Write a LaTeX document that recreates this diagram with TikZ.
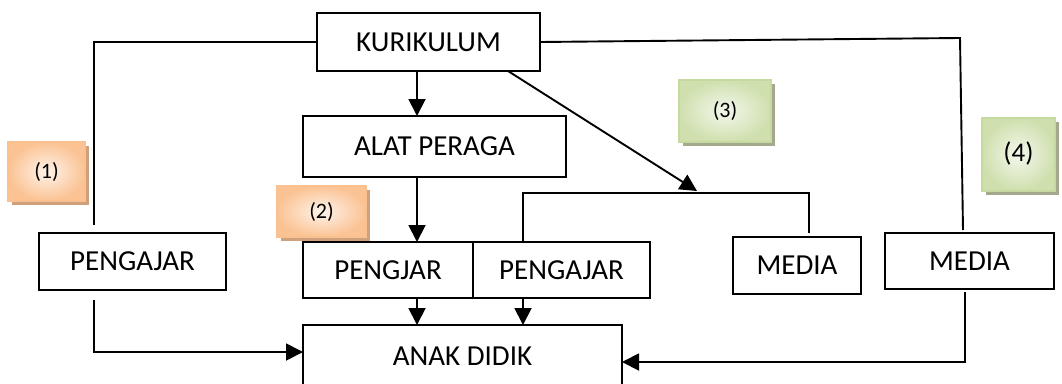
\documentclass[tikz,border=0pt]{standalone}
\usepackage{fontspec}
\setmainfont{Carlito}
\usetikzlibrary{arrows.meta,shadows}
\definecolor{orbord}{HTML}{FAC090}
\definecolor{orout}{HTML}{FBC394}
\definecolor{orin}{HTML}{FEF3EA}
\definecolor{orshad}{HTML}{CFA07C}
\definecolor{grbord}{HTML}{C6D9A0}
\definecolor{grout}{HTML}{CFE0AE}
\definecolor{grin}{HTML}{F3F7EC}
\definecolor{grshad}{HTML}{A2A98C}
\tikzset{
  box/.style={draw=black, line width=1.9pt, fill=white, inner sep=0pt, outer sep=0pt,
    font=\fontsize{29}{32}\selectfont},
  link/.style={line width=1.9pt},
  arr/.style={line width=1.9pt, -{Triangle[length=17pt,width=17pt]}},
  orbox/.style={draw=orbord, line width=1.8pt, inner sep=0pt, outer sep=0pt,
    inner color=orin, outer color=orout,
    general shadow={fill=orshad, shadow xshift=4pt, shadow yshift=-4pt},
    font=\fontsize{22}{25}\selectfont},
  grbox/.style={draw=grbord, line width=1.8pt, inner sep=0pt, outer sep=0pt,
    inner color=grin, outer color=grout,
    general shadow={fill=grshad, shadow xshift=4pt, shadow yshift=-4pt},
    font=\fontsize{22}{25}\selectfont}
}
\begin{document}
\begin{tikzpicture}[x=1pt,y=-1pt]
\useasboundingbox (0,0) rectangle (1062,383);
% main boxes
\node[box, minimum width=223pt, minimum height=58pt] (kur) at (428.5,42) {KURIKULUM};
\node[box, minimum width=263pt, minimum height=61pt] (alat) at (434.5,146.5) {ALAT PERAGA};
\node[box, minimum width=170pt, minimum height=56pt] (pengjar) at (388,270) {PENGJAR};
\node[box, minimum width=177pt, minimum height=56pt] (peng2) at (561.5,270) {PENGAJAR};
\node[box, minimum width=187pt, minimum height=57pt] (peng1) at (132.5,261.5) {PENGAJAR};
\node[box, minimum width=128pt, minimum height=57pt] (media1) at (797,265.5) {MEDIA};
\node[box, minimum width=169pt, minimum height=56pt] (media2) at (969.5,261) {MEDIA};
\node[box, minimum width=319pt, minimum height=63pt] (anak) at (462.5,356.5) {ANAK DIDIK};
% coloured labels
\node[orbox, minimum width=77pt, minimum height=59pt] (l1) at (46.5,171.5) {(1)};
\node[orbox, minimum width=89pt, minimum height=51pt] (l2) at (321.5,211.5) {(2)};
\node[grbox, minimum width=92pt, minimum height=62pt] (l3) at (725,111) {\raisebox{3pt}{(3)}};
\node[grbox, minimum width=73pt, minimum height=73pt] (l4) at (1018.5,154.5) {\raisebox{6pt}{\fontsize{27}{30}\selectfont(4)}};
% helper coordinates
\coordinate (xa) at (417,0);
\coordinate (xb) at (523,0);
\coordinate (c1top) at (94,225);
\coordinate (c1bot) at (94,300);
\coordinate (c4a) at (960,38);
\coordinate (c4top) at (963,230);
\coordinate (c4bot) at (965,292);
\coordinate (dstart) at (508,71);
\coordinate (dend) at (697,191);
\coordinate (m1) at (809,193);
\coordinate (m1end) at (809,233);
% connectors
\draw[link] (kur.west) -| (c1top);
\draw[arr] (c1bot) |- ([yshift=4.5pt]anak.west);
\draw[link] (kur.east) -- (c4a) -- (c4top);
\draw[arr] (c4bot) |- ([yshift=-5.5pt]anak.east);
\draw[arr] (kur.south -| xa) -- (alat.north -| xa);
\draw[arr] (alat.south -| xa) -- (pengjar.north -| xa);
\draw[arr] (dstart) -- (dend);
\draw[link] (peng2.north -| xb) |- (m1) -- (m1end);
\draw[arr] (pengjar.south -| xa) -- (anak.north -| xa);
\draw[arr] (peng2.south -| xb) -- (anak.north -| xb);
\end{tikzpicture}
\end{document}
